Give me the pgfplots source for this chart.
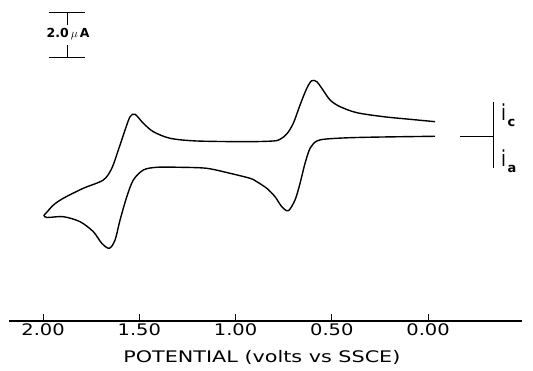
\documentclass[border=0pt]{standalone}
\usepackage{pgfplots}
\pgfplotsset{compat=1.18}
\usepackage{fontspec}
\setmainfont{DejaVu Sans}
\newfontfamily\tickfont[FakeStretch=1.22]{DejaVu Sans}
\newfontfamily\labfont[FakeStretch=1.3]{DejaVu Sans}
\begin{document}
\begin{tikzpicture}
\useasboundingbox (0,0) rectangle (533bp,371bp);
\begin{axis}[
  at={(9bp,50bp)}, anchor=south west,
  scale only axis, width=513bp, height=321bp,
  x dir=reverse,
  xmin=-0.488, xmax=2.177, ymin=-8.222, ymax=6.044,
  axis x line*=bottom, axis y line=none,
  axis line style={line width=1.2pt},
  xtick={2,1.5,1,0.5,0},
  xticklabels={2.00,1.50,1.00,0.50,0.00},
  tick align=inside, major tick length=7bp,
  tick style={line width=0.8pt, black},
  xticklabel style={font=\tickfont\fontsize{16}{16}\selectfont, yshift=1bp},
  xlabel={POTENTIAL (volts vs SSCE)},
  xlabel style={at={(axis description cs:0.493,0)}, anchor=base, yshift=-41bp,
    font=\labfont\fontsize{16}{16}\selectfont, inner sep=0pt},
  clip=false,
]
% cyclic voltammogram (x: V vs SSCE, y: current in microamps)
\addplot[black, line width=1.4pt, smooth, tension=0.5] coordinates {
(-0.036,0.636) (0.094,0.742) (0.232,0.858) (0.370,1.036) (0.457,1.302)
(0.509,1.600) (0.552,2.120) (0.578,2.413) (0.604,2.458) (0.630,2.120)
(0.665,1.378) (0.700,0.564) (0.734,0.089) (0.769,-0.147) (0.804,-0.222)
(0.942,-0.253) (1.202,-0.222) (1.340,-0.102) (1.427,0.191) (1.479,0.564)
(1.522,0.964) (1.548,0.858) (1.574,0.267) (1.609,-0.622) (1.643,-1.436)
(1.687,-1.956) (1.791,-2.324) (1.895,-2.769) (1.946,-3.067) (1.984,-3.422)
(1.995,-3.533) (1.979,-3.622) (1.895,-3.587) (1.808,-3.809) (1.739,-4.253)
(1.695,-4.769) (1.656,-4.991) (1.626,-4.622) (1.600,-3.733) (1.565,-2.698)
(1.531,-1.956) (1.479,-1.511) (1.409,-1.391) (1.288,-1.391) (1.150,-1.436)
(1.029,-1.658) (0.925,-1.880) (0.890,-2.031) (0.838,-2.324) (0.795,-2.698)
(0.760,-3.142) (0.726,-3.320) (0.691,-2.844) (0.665,-2.102) (0.639,-1.213)
(0.613,-0.547) (0.578,-0.222) (0.526,-0.133) (0.405,-0.076) (0.232,-0.044)
(-0.036,-0.013)
};
% scale bar 2.0 uA
\addplot[black, line width=0.9pt] coordinates {(1.969,5.480) (1.782,5.480)};
\addplot[black, line width=0.9pt] coordinates {(1.875,5.480) (1.875,4.933)};
\addplot[black, line width=0.9pt] coordinates {(1.969,3.480) (1.782,3.480)};
\addplot[black, line width=0.9pt] coordinates {(1.875,4.044) (1.875,3.480)};
\node[font=\bfseries\fontsize{12.5}{12.5}\selectfont, inner sep=0pt] at (axis cs:1.87,4.55) {2.0\,$\mu$\,A};
% zero current marker
\addplot[black, line width=0.9pt] coordinates {(-0.166,0) (-0.338,0)};
\addplot[black, line width=0.9pt] coordinates {(-0.338,1.511) (-0.338,-1.422)};
\node[anchor=base west, inner sep=0pt] at (axis cs:-0.378,0.71)
  {\scalebox{1.05}[1.3]{\fontsize{17}{17}\selectfont i}\,\raisebox{-6bp}{\bfseries\fontsize{13}{13}\selectfont c}};
\node[anchor=base west, inner sep=0pt] at (axis cs:-0.378,-1.35)
  {\scalebox{1.05}[1.3]{\fontsize{17}{17}\selectfont i}\,\raisebox{-6bp}{\bfseries\fontsize{13}{13}\selectfont a}};
\end{axis}
\end{tikzpicture}
\end{document}
